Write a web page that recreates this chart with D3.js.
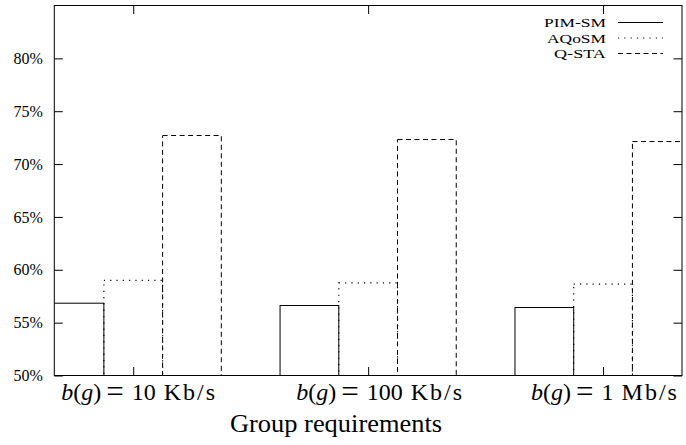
<!DOCTYPE html>
<html><head><meta charset="utf-8">
<script src="https://cdn.jsdelivr.net/npm/d3@7/dist/d3.min.js"></script>
<style>body{margin:0;background:#fff}svg{display:block}</style>
</head><body>
<svg id="chart" width="686" height="445"></svg>
<script>
// ---- data ----
const categoryNumbers = ["10", "100", "1"];
const categoryUnits = ["Kb/s", "Kb/s", "Mb/s"];
const seriesNames = ["PIM-SM", "AQoSM", "Q-STA"];
const pimSM = [56.84, 56.62, 56.43];
const aqosm = [58.99, 58.77, 58.64];
const qsta = [72.70, 72.32, 72.13];
const yTickValues = [50, 55, 60, 65, 70, 75, 80];
const yTickLabels = ["50%", "55%", "60%", "65%", "70%", "75%", "80%"];
const xTitle = "Group requirements";

const series = [pimSM, aqosm, qsta];
const dashes = [null, "1.2,5.1", "5,3.5"];

const svg = d3.select("#chart");
const L = 54.3, R = 682, T = 5.5, B = 375.5;
const x = d3.scaleLinear().domain([-0.336, 2.336]).range([L, R]);
const y = d3.scaleLinear().domain([50, 85]).range([B, T]);
const serif = "'Liberation Serif', 'Times New Roman', serif";

svg.append("defs").append("clipPath").attr("id", "clip")
  .append("rect").attr("x", L).attr("y", T).attr("width", R - L).attr("height", B - T);

// bars
const barW = 0.25;
const gBars = svg.append("g").attr("clip-path", "url(#clip)");
series.forEach((vals, j) => {
  gBars.selectAll(null).data(vals).enter().append("rect")
    .attr("x", (d, i) => x(i + (j - 1) * barW - barW / 2))
    .attr("width", (d, i) => x(i + (j - 1) * barW + barW / 2) - x(i + (j - 1) * barW - barW / 2))
    .attr("y", d => y(d))
    .attr("height", d => y(50) - y(d))
    .attr("fill", "none")
    .attr("stroke", "#000")
    .attr("stroke-width", j === 1 ? 1.2 : 1)
    .attr("stroke-dasharray", dashes[j]);
});

// frame
svg.append("rect").attr("x", L).attr("y", T).attr("width", R - L).attr("height", B - T)
  .attr("fill", "none").attr("stroke", "#000").attr("stroke-width", 1);

// y axis (left, inward ticks)
const yAxis = d3.axisLeft(y).tickValues(yTickValues)
  .tickFormat((d, i) => yTickLabels[i]).tickSize(-8.5).tickPadding(11.5);
const gy = svg.append("g").attr("transform", `translate(${L},0)`).call(yAxis);
gy.select(".domain").remove();
gy.selectAll("text").attr("font-family", serif).attr("font-size", 16).attr("fill", "#000");
gy.selectAll("line").attr("stroke", "#000");
// right mirror
const yAxisR = d3.axisRight(y).tickValues(yTickValues).tickFormat("").tickSize(-8.5);
const gyr = svg.append("g").attr("transform", `translate(${R},0)`).call(yAxisR);
gyr.select(".domain").remove();
gyr.selectAll("line").attr("stroke", "#000");

// x ticks bottom & top
const xAxisB = d3.axisBottom(x).tickValues([0, 1, 2]).tickFormat("").tickSize(-8.5);
const gxb = svg.append("g").attr("transform", `translate(0,${B})`).call(xAxisB);
gxb.select(".domain").remove();
gxb.selectAll("line").attr("stroke", "#000");
const xAxisT = d3.axisTop(x).tickValues([0, 1, 2]).tickFormat("").tickSize(-8.5);
const gxt = svg.append("g").attr("transform", `translate(0,${T})`).call(xAxisT);
gxt.select(".domain").remove();
gxt.selectAll("line").attr("stroke", "#000");

// x category labels
categoryNumbers.forEach((num, i) => {
  const t = svg.append("text").attr("x", x(i) - 72).attr("y", 400)
    .attr("font-family", serif).attr("font-size", 24).attr("fill", "#000");
  t.append("tspan").attr("font-style", "italic").text("b");
  t.append("tspan").text("(");
  t.append("tspan").attr("font-style", "italic").text("g");
  t.append("tspan").text(")");
  t.append("tspan").attr("dx", 5).attr("dy", 2).attr("font-size", 31).text("=");
  t.append("tspan").attr("dx", 8).attr("dy", -2).text(num);
  t.append("tspan").attr("dx", 8).attr("letter-spacing", 2).text(categoryUnits[i]);
});

// x title
svg.append("text").attr("x", 336).attr("y", 432).attr("text-anchor", "middle")
  .attr("font-family", serif).attr("font-size", 24.5)
  .attr("textLength", 212).attr("lengthAdjust", "spacingAndGlyphs")
  .attr("fill", "#000").text(xTitle);

// legend
const legRows = [22.5, 38, 53.5];
const legWidths = [62, 59, 52];
seriesNames.forEach((name, j) => {
  svg.append("text").attr("x", 606 - legWidths[j]).attr("y", legRows[j] + 4.5)
    .attr("font-family", serif).attr("font-size", 13)
    .attr("textLength", legWidths[j]).attr("lengthAdjust", "spacingAndGlyphs")
    .attr("fill", "#000").text(name);
  svg.append("line").attr("x1", 618).attr("x2", 663)
    .attr("y1", legRows[j]).attr("y2", legRows[j])
    .attr("stroke", "#000").attr("stroke-width", j === 1 ? 1.2 : 1)
    .attr("stroke-dasharray", dashes[j]);
});
</script>
</body></html>
